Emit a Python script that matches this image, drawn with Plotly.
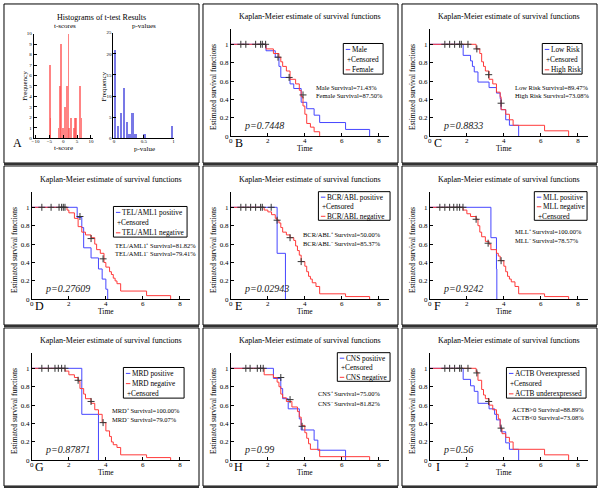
import plotly.graph_objects as go

W, H = 600, 493
FONT = "Liberation Serif"
BLUE = "#4646ff"
RED = "#ff3a3a"

# ---------------- Panel A data (histograms) ----------------
t_centers = [-4.9, -4.6, -1.8, -1.3, -0.8, -0.2, 0.6, 1.2, 1.8, 2.1, 2.7, 3.9, 4.1, 4.5, 5.9, 6.5]
t_counts = [7, 2, 1, 5, 9, 1, 3, 5, 10, 1, 2, 1, 2, 2, 5, 2]
p_centers = [0.02, 0.07, 0.12, 0.17, 0.22, 0.27, 0.32, 0.37, 0.52, 0.98]
p_counts = [21, 3, 6, 12, 4, 1, 6, 1, 1, 3]

# ---------------- Kaplan-Meier data ----------------
B_blue_t = [0, 1.9, 2.4, 2.6, 2.7, 3.2, 3.4, 3.8, 4.1, 4.5, 4.8, 6.2, 7.5]
B_blue_s = [1, 0.93, 0.86, 0.76, 0.64, 0.57, 0.52, 0.37, 0.30, 0.23, 0.15, 0.075, 0]
B_red_t = [0, 1.9, 2.3, 2.6, 2.7, 2.8, 3.0, 3.2, 3.5, 3.7, 3.8, 3.9, 4.0, 4.1, 4.3, 4.5, 4.8]
B_red_s = [1, 0.95, 0.90, 0.86, 0.81, 0.76, 0.71, 0.62, 0.57, 0.50, 0.43, 0.33, 0.24, 0.14, 0.10, 0.05, 0]
B_cens_t = [0.54, 0.81, 1.34, 1.61, 1.70, 1.88, 2.55, 3.15, 3.9]
B_cens_s = [1, 1, 1, 1, 1, 1, 0.86, 0.64, 0.45]

C_blue_t = [0, 1.8, 2.2, 2.3, 2.4, 2.6, 3.2, 3.6, 3.8, 3.85, 4.1, 4.3, 4.8]
C_blue_s = [1, 0.88, 0.82, 0.76, 0.70, 0.59, 0.53, 0.47, 0.41, 0.29, 0.18, 0.12, 0]
C_red_t = [0, 2.5, 2.7, 2.8, 2.9, 3.0, 3.2, 3.4, 3.6, 3.8, 3.85, 4.1, 4.3, 4.5, 6.2, 7.5]
C_red_s = [1, 0.95, 0.90, 0.81, 0.76, 0.71, 0.62, 0.57, 0.48, 0.43, 0.29, 0.24, 0.18, 0.12, 0.06, 0]
C_cens_t = [0.81, 1.07, 1.34, 1.61, 1.70, 2.06, 2.54, 3.18, 3.85]
C_cens_s = [1, 1, 1, 1, 1, 1, 0.95, 0.67, 0.36]

D_blue_t = [0, 2.45, 2.7, 2.8, 3.2, 3.6, 3.8, 4.0, 4.1]
D_blue_s = [1, 0.89, 0.78, 0.56, 0.45, 0.33, 0.22, 0.11, 0]
D_red_t = [0, 1.9, 2.0, 2.3, 2.5, 2.7, 2.9, 3.2, 3.4, 3.5, 3.7, 3.9, 4.0, 4.2, 4.3, 4.4, 4.5, 4.6, 4.8, 6.2, 7.5]
D_red_s = [1, 0.97, 0.94, 0.88, 0.79, 0.73, 0.70, 0.67, 0.60, 0.54, 0.50, 0.40, 0.35, 0.30, 0.27, 0.23, 0.20, 0.17, 0.09, 0.04, 0]
D_cens_t = [0.54, 1.04, 1.47, 1.61, 1.70, 1.79, 2.6, 3.2, 3.85]
D_cens_s = [1, 1, 1, 1, 1, 1, 0.90, 0.66, 0.44]

E_blue_t = [0, 2.5, 2.95]
E_blue_s = [1, 0.5, 0]
E_red_t = [0, 1.8, 2.0, 2.2, 2.4, 2.5, 2.6, 2.7, 2.8, 3.0, 3.2, 3.4, 3.5, 3.6, 3.7, 3.8, 4.0, 4.1, 4.2, 4.3, 4.4, 4.6, 4.8, 6.2, 7.5]
E_red_s = [1, 0.97, 0.95, 0.92, 0.88, 0.86, 0.83, 0.78, 0.73, 0.70, 0.67, 0.64, 0.58, 0.53, 0.48, 0.41, 0.36, 0.30, 0.25, 0.22, 0.18, 0.14, 0.06, 0.03, 0]
E_cens_t = [0.54, 0.81, 1.07, 1.34, 1.61, 1.70, 2.18, 2.5, 3.2, 3.8]
E_cens_s = [1, 1, 1, 1, 1, 1, 1, 0.86, 0.67, 0.41]

F_blue_t = [0, 3.3, 3.6, 3.62]
F_blue_s = [1, 0.67, 0.33, 0]
F_red_t = [0, 1.8, 2.0, 2.2, 2.5, 2.6, 2.7, 2.8, 3.0, 3.2, 3.3, 3.6, 3.7, 3.8, 4.0, 4.1, 4.2, 4.3, 4.4, 4.6, 4.8, 6.2, 7.5]
F_red_s = [1, 0.97, 0.93, 0.90, 0.87, 0.80, 0.73, 0.68, 0.63, 0.60, 0.54, 0.50, 0.47, 0.42, 0.36, 0.30, 0.25, 0.22, 0.19, 0.14, 0.06, 0.03, 0]
F_cens_t = [0.54, 0.81, 1.07, 1.29, 1.47, 1.61, 1.79, 2.5, 3.15, 3.85]
F_cens_s = [1, 1, 1, 1, 1, 1, 1, 0.87, 0.61, 0.42]

G_blue_t = [0, 2.7, 3.6]
G_blue_s = [1, 0.5, 0]
G_red_t = [0, 1.8, 2.0, 2.3, 2.5, 2.6, 2.8, 2.9, 3.2, 3.4, 3.6, 3.8, 4.0, 4.2, 4.3, 4.4, 4.6, 4.8, 6.2, 7.5]
G_red_s = [1, 0.97, 0.93, 0.90, 0.86, 0.78, 0.72, 0.67, 0.62, 0.55, 0.50, 0.41, 0.32, 0.26, 0.20, 0.17, 0.14, 0.06, 0.03, 0]
G_cens_t = [0.54, 0.89, 1.25, 1.43, 1.61, 1.79, 2.5, 3.2, 3.85]
G_cens_s = [1, 1, 1, 1, 1, 1, 0.87, 0.64, 0.41]

H_blue_t = [0, 2.3, 2.7, 2.8, 3.1, 3.7, 3.8, 4.5, 4.7, 6.2]
H_blue_s = [1, 0.89, 0.78, 0.67, 0.56, 0.45, 0.33, 0.22, 0.11, 0]
H_red_t = [0, 1.8, 2.3, 2.5, 2.6, 2.7, 2.8, 3.0, 3.3, 3.6, 3.7, 3.8, 4.0, 4.1, 4.2, 4.3, 4.8, 7.5]
H_red_s = [1, 0.93, 0.90, 0.85, 0.80, 0.72, 0.68, 0.64, 0.58, 0.53, 0.47, 0.38, 0.30, 0.24, 0.18, 0.12, 0.04, 0]
H_cens_t = [0.81, 1.04, 1.43, 1.61, 1.75, 2.7, 3.2, 3.85]
H_cens_s = [1, 1, 1, 1, 1, 0.90, 0.66, 0.37]

I_blue_t = [0, 1.8, 2.2, 2.4, 2.6, 3.2, 3.5, 3.6, 3.8, 3.85, 4.1, 4.3, 4.8]
I_blue_s = [1, 0.88, 0.81, 0.75, 0.62, 0.56, 0.50, 0.44, 0.37, 0.31, 0.19, 0.12, 0]
I_red_t = [0, 2.5, 2.6, 2.8, 2.9, 3.0, 3.2, 3.4, 3.6, 3.7, 3.8, 3.9, 4.1, 4.3, 4.5, 6.2, 7.5]
I_red_s = [1, 0.96, 0.87, 0.77, 0.71, 0.67, 0.60, 0.55, 0.50, 0.45, 0.35, 0.29, 0.25, 0.20, 0.12, 0.06, 0]
I_cens_t = [0.81, 1.07, 1.34, 1.61, 1.70, 2.06, 2.54, 3.18, 3.85]
I_cens_s = [1, 1, 1, 1, 1, 1, 0.95, 0.64, 0.35]

km_ticks_x = [0, 2, 4, 6, 8]
km_ticks_y = [0, 0.2, 0.4, 0.6, 0.8, 1]
km_ticktext_y = ["0", "0.2", "0.4", "0.6", "0.8", "1"]

panels = [
    dict(letter="B", o=(200, 0), blue=(B_blue_t, B_blue_s), red=(B_red_t, B_red_s), cens=(B_cens_t, B_cens_s),
         leg=[("b", "Male"), ("c", "Censored"), ("r", "Female")], legbox=(143, 42, 183, 73),
         surv=["Male Survival=71.43%", "Female Survival=87.50%"], survpos=(115, 87, 95), p="p=0.7448"),
    dict(letter="C", o=(400, 0), blue=(C_blue_t, C_blue_s), red=(C_red_t, C_red_s), cens=(C_cens_t, C_cens_s),
         leg=[("b", "Low Risk"), ("c", "Censored"), ("r", "High Risk")], legbox=(143, 42, 183, 73),
         surv=["Low Risk Survival=89.47%", "High Risk Survival=73.08%"], survpos=(115, 87, 95), p="p=0.8833"),
    dict(letter="D", o=(0, 165), blue=(D_blue_t, D_blue_s), red=(D_red_t, D_red_s), cens=(D_cens_t, D_cens_s),
         leg=[("b", "TEL/AML1 positive"), ("c", "Censored"), ("r", "TEL/AML1 negative")], legbox=(112, 42, 186, 73),
         surv=["TEL/AML1\u207a Survival=81.82%", "TEL/AML1\u207b Survival=79.41%"], survpos=(113, 81, 90), p="p=0.27609"),
    dict(letter="E", o=(200, 165), blue=(E_blue_t, E_blue_s), red=(E_red_t, E_red_s), cens=(E_cens_t, E_cens_s),
         leg=[("b", "BCR/ABL positive"), ("c", "Censored"), ("r", "BCR/ABL negative")], legbox=(118, 27, 190, 56),
         surv=["BCR/ABL\u207a Survival=50.00%", "BCR/ABL\u207b Survival=85.37%"], survpos=(102, 70, 79), p="p=0.02943"),
    dict(letter="F", o=(400, 165), blue=(F_blue_t, F_blue_s), red=(F_red_t, F_red_s), cens=(F_cens_t, F_cens_s),
         leg=[("b", "MLL positive"), ("r", "MLL negative"), ("c", "Censored")], legbox=(135, 27, 188, 56),
         surv=["MLL\u207a Survival=100.00%", "MLL\u207b Survival=78.57%"], survpos=(115, 67, 76), p="p=0.9242"),
    dict(letter="G", o=(0, 328), blue=(G_blue_t, G_blue_s), red=(G_red_t, G_red_s), cens=(G_cens_t, G_cens_s),
         leg=[("b", "MRD positive"), ("r", "MRD negative"), ("c", "Censored")], legbox=(122, 42, 183, 73),
         surv=["MRD\u207a Survival=100.00%", "MRD\u207b Survival=79.07%"], survpos=(110, 86, 95), p="p=0.87871"),
    dict(letter="H", o=(200, 328), blue=(H_blue_t, H_blue_s), red=(H_red_t, H_red_s), cens=(H_cens_t, H_cens_s),
         leg=[("b", "CNS positive"), ("c", "Censored"), ("r", "CNS negative")], legbox=(137, 27, 190, 56),
         surv=["CNS\u207a Survival=75.00%", "CNS\u207b Survival=81.82%"], survpos=(117, 68, 78), p="p=0.99"),
    dict(letter="I", o=(400, 328), blue=(I_blue_t, I_blue_s), red=(I_red_t, I_red_s), cens=(I_cens_t, I_cens_s),
         leg=[("b", "ACTB Overexpressed"), ("c", "Censored"), ("r", "ACTB underexpressed")], legbox=(107, 42, 187, 73),
         surv=["ACTB>0 Survival=88.89%", "ACTB<0 Survival=73.08%"], survpos=(112, 85, 93), p="p=0.56"),
]


def px(x):
    return x / W


def py(y):
    return 1 - y / H


annotations = []
shapes = []
layout_axes = {}


def text(x, y, s, size=8, xanchor="center", yanchor="middle", angle=0, color="black"):
    annotations.append(dict(x=px(x), y=py(y), xref="paper", yref="paper", text=s, showarrow=False,
                            font=dict(family=FONT, size=size, color=color), xanchor=xanchor,
                            yanchor=yanchor, textangle=angle, borderpad=0))


def line(x0, y0, x1, y1, color="black", width=1):
    shapes.append(dict(type="line", xref="paper", yref="paper", x0=px(x0), y0=py(y0), x1=px(x1), y1=py(y1),
                       line=dict(color=color, width=width)))


def rect(x0, y0, x1, y1, color="black", width=1):
    shapes.append(dict(type="rect", xref="paper", yref="paper", x0=px(x0), y0=py(y0), x1=px(x1), y1=py(y1),
                       line=dict(color=color, width=width), fillcolor="rgba(0,0,0,0)"))


def axis(n, xdom, ydom, xr, yr, xt, yt, ytt=None, xtt=None, fs=7, xstand=0):
    common = dict(showline=True, linecolor="black", linewidth=1, ticks="inside", ticklen=3, tickcolor="black",
                  showgrid=False, zeroline=False, fixedrange=True,
                  tickfont=dict(family=FONT, size=fs, color="black"))
    xk = "xaxis" if n == 1 else f"xaxis{n}"
    yk = "yaxis" if n == 1 else f"yaxis{n}"
    ya = "y" if n == 1 else f"y{n}"
    xa = "x" if n == 1 else f"x{n}"
    xd = dict(common, domain=[px(xdom[0]), px(xdom[1])], range=xr, tickvals=xt, anchor=ya,
              ticklabelstandoff=xstand)
    if xtt:
        xd["ticktext"] = xtt
    yd = dict(common, domain=[py(ydom[1]), py(ydom[0])], range=yr, tickvals=yt, anchor=xa)
    if ytt:
        yd["ticktext"] = ytt
    layout_axes[xk] = xd
    layout_axes[yk] = yd
    return xa, ya


fig = go.Figure()

# panel borders
for (ox, oy, w, h) in [(2, 2, 196, 161), (202, 2, 196, 161), (402, 2, 196, 161),
                       (2, 166, 196, 161), (202, 166, 196, 161), (402, 166, 196, 161),
                       (2, 330, 196, 160), (202, 330, 196, 160), (402, 330, 196, 160)]:
    rect(ox, oy, ox + w, oy + h)
    line(ox, oy + h + 1, ox + w, oy + h + 1, color="#333333", width=2)

# ---------------- Panel A ----------------
xa, ya = axis(1, (32, 91), (32, 138), [-10.6, 10.6], [0, 10], [-10, -5, 0, 5, 10], list(range(11)), fs=5, xstand=-2)
fig.add_trace(go.Bar(x=t_centers, y=t_counts, width=0.6, marker=dict(color="rgba(255,80,80,0.7)", line=dict(width=0)),
                     xaxis=xa, yaxis=ya, showlegend=False))
xa, ya = axis(2, (112, 173), (31, 138), [-0.01, 1.01], [0, 25], [0, 0.5, 1], [0, 5, 10, 15, 20, 25],
              xtt=["0", "0.5", "1"], fs=5, xstand=-2)
fig.add_trace(go.Bar(x=p_centers, y=p_counts, width=0.04, marker=dict(color="#7878e6", line=dict(width=0)),
                     xaxis=xa, yaxis=ya, showlegend=False))
text(100, 16, "Histograms of t-test Results", size=8)
text(63, 24.5, "t-scores", size=7)
text(143, 24.5, "p-values", size=7)
text(62, 148, "t-score", size=7)
text(143, 149, "p-value", size=7)
text(23, 85, "Frequency", size=7, angle=-90)
text(102, 85, "Frequency", size=7, angle=-90)
text(16, 143, "A", size=12)

# ---------------- KM panels ----------------
for i, P in enumerate(panels):
    n = i + 3
    ox, oy = P["o"]
    xa, ya = axis(n, (ox + 30, ox + 189), (oy + 27, oy + 136), [0, 8.55], [0, 1.17], km_ticks_x, km_ticks_y,
                  ytt=km_ticktext_y, fs=7, xstand=-3)
    fig.add_trace(go.Scatter(x=P["blue"][0], y=P["blue"][1], mode="lines",
                             line=dict(color=BLUE, width=1, shape="hv"), xaxis=xa, yaxis=ya, showlegend=False))
    fig.add_trace(go.Scatter(x=P["red"][0], y=P["red"][1], mode="lines",
                             line=dict(color=RED, width=1, shape="hv"), xaxis=xa, yaxis=ya, showlegend=False))
    fig.add_trace(go.Scatter(x=P["cens"][0], y=P["cens"][1], mode="markers",
                             marker=dict(symbol="cross-thin", size=5, color="black", line=dict(width=1, color="#333333")),
                             xaxis=xa, yaxis=ya, showlegend=False, cliponaxis=False))
    text(ox + 110, oy + 15, "Kaplan-Meier estimate of survival functions", size=8)
    text(ox + 13, oy + 86, "Estimated survival functions", size=7.5, angle=-90)
    text(ox + 105, oy + 148, "Time", size=7.5)
    text(ox + 38, oy + 143, P["letter"], size=12)
    text(ox + 42, oy + 125, "<i>" + P["p"] + "</i>", size=10, xanchor="left", color="#222222")
    # legend
    bx0, by0, bx1, by1 = P["legbox"]
    rect(ox + bx0, oy + by0, ox + bx1, oy + by1)
    step = (by1 - by0) / 3.0
    for k, (kind, lab) in enumerate(P["leg"]):
        yy = oy + by0 + step * (k + 0.58)
        if kind == "c":
            text(ox + bx0 + 2.5, yy, "+Censored", size=7.3, xanchor="left")
        else:
            line(ox + bx0 + 2.5, yy, ox + bx0 + 7, yy, color=BLUE if kind == "b" else RED, width=1)
            text(ox + bx0 + 7.5, yy, lab, size=7.3, xanchor="left")
    sx, sy1, sy2 = P["survpos"]
    text(ox + sx, oy + sy1, P["surv"][0], size=6.5, xanchor="left")
    text(ox + sx, oy + sy2, P["surv"][1], size=6.5, xanchor="left")

fig.update_layout(width=W, height=H, margin=dict(l=0, r=0, t=0, b=0), paper_bgcolor="white",
                  plot_bgcolor="white", annotations=annotations, shapes=shapes, bargap=0, **layout_axes)

fig.write_html("out.html", config={"displayModeBar": False},
               post_script="document.body.style.margin='0px';document.body.style.overflow='hidden';")
